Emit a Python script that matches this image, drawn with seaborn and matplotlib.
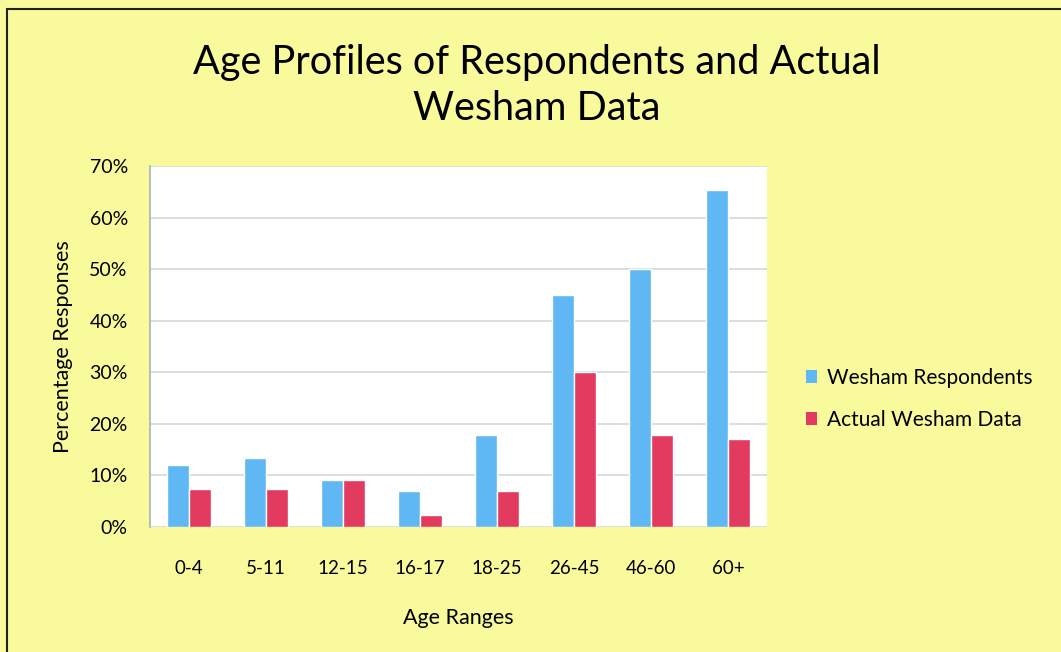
"""
Age profiles of survey respondents vs actual Wesham population data
"""

import matplotlib
matplotlib.use("Agg")
import matplotlib.pyplot as plt
import matplotlib.patches as mpatches
from matplotlib.ticker import PercentFormatter
import seaborn as sns
import pandas as pd

# data (percent)
age_ranges = ['0-4', '5-11', '12-15', '16-17', '18-25', '26-45', '46-60', '60+']
respondents = [12.1, 13.4, 9.2, 7.0, 17.9, 45.0, 50.0, 65.3]
actual = [7.4, 7.4, 9.2, 2.4, 7.0, 30.0, 17.9, 17.0]
series_names = ['Wesham Respondents', 'Actual Wesham Data']
y_ticks = [0, 10, 20, 30, 40, 50, 60, 70]

colors = {'Wesham Respondents': '#5FB7F3', 'Actual Wesham Data': '#E33A5F'}
bg = '#F9FA9B'
grid_col = '#D6DFE1'

df = pd.DataFrame({
    'Age': age_ranges * 2,
    'Value': respondents + actual,
    'Series': [series_names[0]] * len(age_ranges) + [series_names[1]] * len(age_ranges),
})

sns.set_style("white")
plt.rcParams['font.family'] = ['Lato', 'DejaVu Sans']
plt.rcParams['text.color'] = 'black'
plt.rcParams['axes.labelcolor'] = 'black'
plt.rcParams['xtick.color'] = 'black'
plt.rcParams['ytick.color'] = 'black'

fig = plt.figure(figsize=(10.61, 6.52), dpi=100)
fig.patch.set_facecolor(bg)

# outer frame (only top/left visible in the crop)
fig.patches.append(mpatches.Rectangle((7 / 1061, -0.1), 1.2, 1 - 9 / 652 + 0.1,
                                      transform=fig.transFigure, facecolor='none',
                                      edgecolor='#222222', linewidth=1.5, zorder=0))

ax = fig.add_axes([150 / 1061, 1 - 527 / 652, (767 - 150) / 1061, (527 - 166) / 652])
ax.set_facecolor('white')

sns.barplot(data=df, x='Age', y='Value', hue='Series', palette=colors,
            width=0.57, ax=ax, saturation=1, legend=False, zorder=3)

ax.set_ylim(0, 70)
ax.set_yticks(y_ticks)
ax.yaxis.set_major_formatter(PercentFormatter(decimals=0))
ax.grid(axis='y', color=grid_col, linewidth=1.4, zorder=0)
ax.set_axisbelow(True)

for s in ['top', 'right', 'bottom']:
    ax.spines[s].set_visible(False)
ax.spines['left'].set_color('#A9B4B8')
ax.spines['left'].set_linewidth(1.2)

ax.tick_params(axis='y', length=7, width=1.4, color=grid_col, labelsize=14, pad=9,
               labelcolor='black')
ax.tick_params(axis='x', length=0, labelsize=13.5, pad=24, labelcolor='black')

ax.set_xlabel('Age Ranges', fontsize=15.5, labelpad=22)
ax.set_ylabel('Percentage Responses', fontsize=15.5, labelpad=12)

fig.suptitle('Age Profiles of Respondents and Actual\nWesham Data',
             x=537 / 1061, y=1 - 44 / 652, fontsize=28.5, linespacing=1.3)

handles = [mpatches.Patch(facecolor=colors[n], edgecolor='none', label=n) for n in series_names]
fig.legend(handles=handles, loc='center left', bbox_to_anchor=(787 / 1061, 1 - 399 / 652),
           frameon=False, fontsize=15, handlelength=0.55, handleheight=0.55,
           handletextpad=0.45, labelspacing=1.05)

fig.savefig('out.png', dpi=100, facecolor=bg)
